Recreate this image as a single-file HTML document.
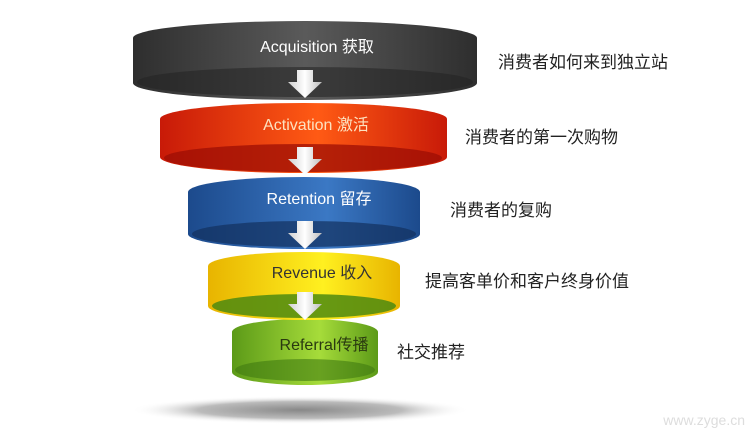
<!DOCTYPE html>
<html><head><meta charset="utf-8"><style>
body{margin:0;background:#fff;}
svg{display:block;font-family:"Liberation Sans","Noto Sans CJK SC",sans-serif;}
</style></head><body>
<svg width="750" height="431" viewBox="0 0 750 431">
<defs>
<linearGradient id="g1" x1="0" x2="1"><stop offset="0" stop-color="#2e2e2e"/><stop offset="0.5" stop-color="#5a5a5a"/><stop offset="1" stop-color="#2e2e2e"/></linearGradient>
<linearGradient id="g2" x1="0" x2="1"><stop offset="0" stop-color="#c81a08"/><stop offset="0.55" stop-color="#ff5a14"/><stop offset="1" stop-color="#c81a08"/></linearGradient>
<linearGradient id="g3" x1="0" x2="1"><stop offset="0" stop-color="#1c4a8c"/><stop offset="0.6" stop-color="#3b78c4"/><stop offset="1" stop-color="#1c4a8c"/></linearGradient>
<linearGradient id="g4" x1="0" x2="1"><stop offset="0" stop-color="#e8b400"/><stop offset="0.6" stop-color="#fff020"/><stop offset="1" stop-color="#e8b400"/></linearGradient>
<linearGradient id="g5" x1="0" x2="1"><stop offset="0" stop-color="#5c9a18"/><stop offset="0.6" stop-color="#a6dc3a"/><stop offset="1" stop-color="#5c9a18"/></linearGradient>
<linearGradient id="ar" x1="0" x2="1"><stop offset="0" stop-color="#cfcfcf"/><stop offset="0.5" stop-color="#ffffff"/><stop offset="1" stop-color="#bdbdbd"/></linearGradient>
<radialGradient id="sh"><stop offset="0" stop-color="#888"/><stop offset="0.6" stop-color="#bbb"/><stop offset="1" stop-color="#fff" stop-opacity="0"/></radialGradient>
</defs>
<ellipse cx="300" cy="410" rx="170" ry="14" fill="url(#sh)"/>
<!-- green -->
<path d="M232,332 A73,13 0 0 1 378,332 L378,372 A73,13 0 0 1 232,372 Z" fill="url(#g5)"/>
<ellipse cx="305" cy="370" rx="70" ry="11" fill="#3f7a10" opacity="0.6"/>
<!-- yellow -->
<path d="M208,266 A96,14 0 0 1 400,266 L400,306 A96,14 0 0 1 208,306 Z" fill="url(#g4)"/>
<ellipse cx="304" cy="306" rx="92" ry="12" fill="#4c8a10" opacity="0.85"/>
<!-- blue -->
<path d="M188,192 A116,15 0 0 1 420,192 L420,234 A116,15 0 0 1 188,234 Z" fill="url(#g3)"/>
<ellipse cx="304" cy="234" rx="112" ry="13" fill="#12305e" opacity="0.7"/>
<!-- red -->
<path d="M160,119 A143,16 0 0 1 447,119 L447,157 A143,16 0 0 1 160,157 Z" fill="url(#g2)"/>
<ellipse cx="303" cy="158" rx="139" ry="14" fill="#9c0e04" opacity="0.75"/>
<!-- gray -->
<path d="M133,38 A172,17 0 0 1 477,38 L477,83 A172,17 0 0 1 133,83 Z" fill="url(#g1)"/>
<ellipse cx="305" cy="82" rx="168" ry="15" fill="#222" opacity="0.55"/>
<!-- arrows -->
<g fill="url(#ar)">
<path d="M297,70 H313 V82 H322 L305,98 L288,82 H297 Z"/>
<path d="M297,147 H313 V159 H322 L305,175 L288,159 H297 Z"/>
<path d="M297,221 H313 V233 H322 L305,249 L288,233 H297 Z"/>
<path d="M297,292 H313 V304 H322 L305,320 L288,304 H297 Z"/>
</g>
<g font-size="16" text-anchor="middle">
<text x="317" y="52" fill="#fff">Acquisition 获取</text>
<text x="316" y="130" fill="#fde2c0">Activation 激活</text>
<text x="319" y="204" fill="#fff">Retention 留存</text>
<text x="322" y="278" fill="#333">Revenue 收入</text>
<text x="324" y="350" fill="#2a3a10">Referral传播</text>
</g>
<g font-size="17" fill="#222">
<text x="498" y="68">消费者如何来到独立站</text>
<text x="465" y="143">消费者的第一次购物</text>
<text x="450" y="216">消费者的复购</text>
<text x="425" y="287">提高客单价和客户终身价值</text>
<text x="397" y="358">社交推荐</text>
</g>
<text x="745" y="425" font-size="14" fill="#ddd" text-anchor="end">www.zyge.cn</text>
</svg>
</body></html>
